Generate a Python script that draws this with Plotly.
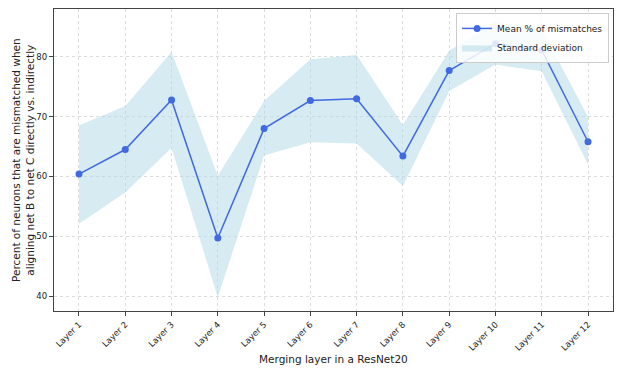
import plotly.graph_objects as go

# data
layers = ["Layer 1", "Layer 2", "Layer 3", "Layer 4", "Layer 5", "Layer 6",
          "Layer 7", "Layer 8", "Layer 9", "Layer 10", "Layer 11", "Layer 12"]
mean_pct = [60.4, 64.5, 72.8, 49.7, 68.0, 72.7, 73.0, 63.4, 77.7, 82.2, 81.1, 65.8]
upper = [68.5, 71.8, 80.8, 60.1, 72.6, 79.6, 80.3, 68.6, 81.0, 85.9, 84.6, 70.0]
lower = [52.1, 57.3, 64.8, 39.8, 63.5, 65.7, 65.5, 58.4, 74.3, 78.7, 77.6, 62.0]

x = list(range(1, len(layers) + 1))
font = "DejaVu Sans"

fig = go.Figure()

# std band (polygon: upper forward, lower backward)
fig.add_trace(go.Scatter(
    x=x + x[::-1], y=upper + lower[::-1],
    fill="toself", fillcolor="rgba(173,216,230,0.5)",
    line=dict(width=0), mode="lines", hoverinfo="skip",
    name="Standard deviation", legendrank=2))

# mean line
fig.add_trace(go.Scatter(
    x=x, y=mean_pct, mode="lines+markers",
    line=dict(color="royalblue", width=1.5),
    marker=dict(color="royalblue", size=7),
    name="Mean % of mismatches", legendrank=1))

axis_common = dict(
    showline=True, linecolor="#444", linewidth=1.2, mirror=True,
    ticks="outside", ticklen=4, tickcolor="#444", automargin=False,
    showgrid=True, gridcolor="#dcdcdc", griddash="dot", gridwidth=1,
    zeroline=False, tickfont=dict(family=font, size=8.5, color="#222"),
)

fig.update_xaxes(
    **axis_common, range=[0.46, 12.54], tickmode="array",
    tickvals=x, ticktext=layers, tickangle=-45)
fig.update_yaxes(
    **axis_common, range=[37.5, 88.0], tickvals=[40, 50, 60, 70, 80])

# axis titles as annotations so the plot box stays where it is
fig.add_annotation(
    text="Merging layer in a ResNet20", xref="paper", yref="paper",
    x=0.5, y=0, yshift=-40, yanchor="top", showarrow=False,
    font=dict(family=font, size=10.5, color="#222"))
fig.add_annotation(
    text="Percent of neurons that are mismatched when<br>aligning net B to net C directly vs. indirectly",
    xref="paper", yref="paper", x=0, y=0.5, xshift=-31, xanchor="center",
    textangle=-90, showarrow=False,
    font=dict(family=font, size=10.5, color="#222"))

fig.update_layout(
    width=623, height=374,
    margin=dict(l=54, r=10, t=9, b=63),
    paper_bgcolor="white", plot_bgcolor="white",
    font=dict(family=font, color="#222"),
    legend=dict(x=0.993, y=0.987, xanchor="right", yanchor="top",
                bgcolor="rgba(255,255,255,0.85)", bordercolor="#ccc", borderwidth=1,
                font=dict(family=font, size=9), tracegroupgap=0,
                itemwidth=30),
    showlegend=True,
)

# drop the default page margin so the figure sits at the window corner
fig.write_html("out.html", config={"displayModeBar": False},
               post_script="document.body.style.margin='0';")
